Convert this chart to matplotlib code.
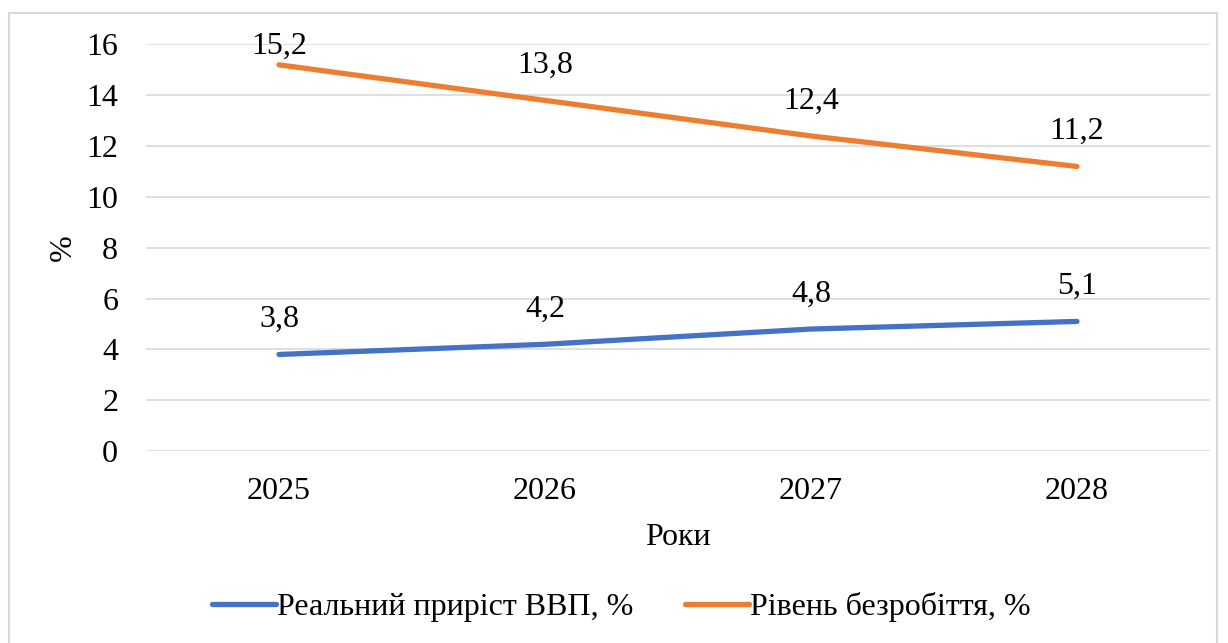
import matplotlib.pyplot as plt
from matplotlib.patches import Rectangle

# Дані
roky = ["2025", "2026", "2027", "2028"]
vvp = [3.8, 4.2, 4.8, 5.1]
bezrobittya = [15.2, 13.8, 12.4, 11.2]

plt.rcParams['font.family'] = ['Liberation Serif', 'DejaVu Serif']
FS = 23

fig = plt.figure(figsize=(12.28, 6.43), dpi=100)
ax = fig.add_axes([0.1189, 0.2986, 0.8664, 0.6322])

# рамка діаграми
fig.patches.append(Rectangle((0.0073, -0.05), 0.984, 1.03, transform=fig.transFigure,
                             fill=False, edgecolor='#D9D9D9', linewidth=1.5))

x = range(len(roky))
ax.plot(x, vvp, color='#4472C4', linewidth=3.8, solid_capstyle='round',
        label="Реальний приріст ВВП, %")
ax.plot(x, bezrobittya, color='#ED7D31', linewidth=3.8, solid_capstyle='round',
        label="Рівень безробіття, %")

# підписи значень
for i, v in enumerate(vvp):
    ax.annotate(f"{v:.1f}".replace(".", ","), (i, v), xytext=(0, 25),
                textcoords='offset points', ha='center', va='center', fontsize=FS)
for i, v in enumerate(bezrobittya):
    dy = 13 if v > 15 else 25
    ax.annotate(f"{v:.1f}".replace(".", ","), (i, v), xytext=(0, dy),
                textcoords='offset points', ha='center', va='center', fontsize=FS)

ax.set_xlim(-0.5, len(roky) - 0.5)
ax.set_ylim(0, 16)
ax.set_yticks(range(0, 17, 2))
ax.set_xticks(list(x))
ax.set_xticklabels(roky)
ax.tick_params(axis='both', length=0, labelsize=FS)
ax.tick_params(axis='y', pad=20)
ax.tick_params(axis='x', pad=19)
ax.grid(axis='y', color='#D9D9D9', linewidth=1.2)
ax.set_axisbelow(True)
for s in ax.spines.values():
    s.set_visible(False)

ax.set_xlabel("Роки", fontsize=FS, labelpad=12)
ax.set_ylabel("%", fontsize=FS, labelpad=6)

fig.legend(loc='center', bbox_to_anchor=(0.506, 0.056), ncol=2, frameon=False,
           fontsize=FS, handlelength=2.0, handletextpad=0.05, columnspacing=1.6)

fig.savefig("out.png", dpi=100)
